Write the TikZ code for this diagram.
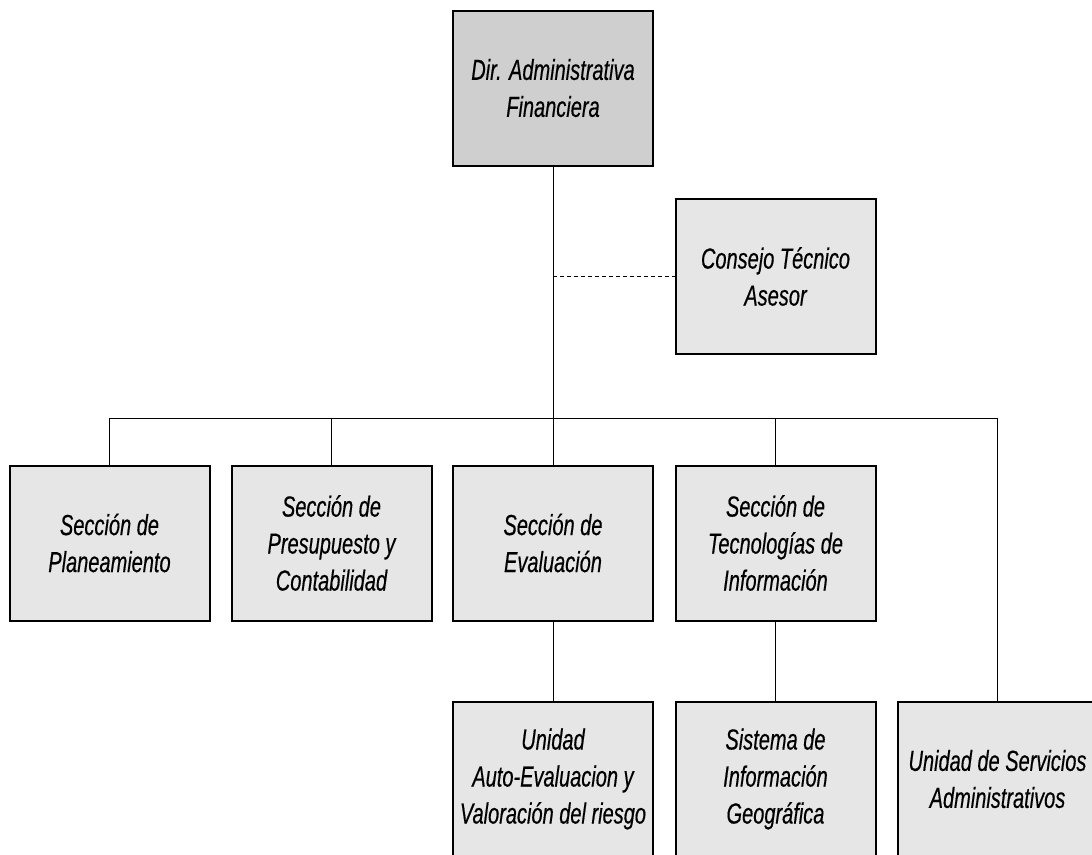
\documentclass[tikz,border=0pt]{standalone}
\usepackage{fontspec}
\newfontfamily\boxfont{Liberation Sans}[FakeStretch=0.69,FakeBold=0.4]
\definecolor{topfill}{HTML}{CFCFCF}
\definecolor{boxfill}{HTML}{E6E6E6}
\tikzset{
  orgbox/.style={draw=black, line width=2pt, fill=boxfill, minimum width=200pt, minimum height=155pt,
    inner sep=2pt, align=center, font=\boxfont\itshape\fontsize{29}{37}\selectfont, text=black},
  topbox/.style={orgbox, fill=topfill},
  link/.style={draw=black, line width=0.9pt},
  advlink/.style={draw=black, line width=0.9pt, dash pattern=on 4pt off 3pt}
}
\begin{document}
\begin{tikzpicture}[x=1pt,y=-1pt]
\clip (0,0) rectangle (1092,854);
\fill[white] (0,0) rectangle (1092,854);
% boxes
\node[topbox] (dir) at (553,88) {Dir. Administrativa\\Financiera};
\node[orgbox] (cons) at (775.5,276.5) {Consejo Técnico\\Asesor};
\node[orgbox] (plan) at (109.5,543) {Sección de\\Planeamiento};
\node[orgbox] (pres) at (331.5,543) {Sección de\\Presupuesto y\\Contabilidad};
\node[orgbox] (eval) at (553,543) {Sección de\\Evaluación};
\node[orgbox] (tec) at (775.5,543) {Sección de\\Tecnologías de\\Información};
\node[orgbox] (auto) at (553,779) {Unidad\\Auto-Evaluacion y\\Valoración del riesgo};
\node[orgbox] (sig) at (775.5,779) {Sistema de\\Información\\Geográfica};
\node[orgbox] (serv) at (997.5,779) {Unidad de Servicios\\Administrativos};
% connectors
\coordinate (busL) at (109.5,418);
\coordinate (busC) at (553,418);
\coordinate (busR) at (997.5,418);
\coordinate (adv) at (553,276.5);
\draw[link] (dir.south) -- (busC);
\draw[link] (busL) -- (busR);
\draw[link] (busL) -- (plan.north);
\draw[link] (pres.north |- busL) -- (pres.north);
\draw[link] (busC) -- (eval.north);
\draw[link] (tec.north |- busL) -- (tec.north);
\draw[link] (busR) -- (serv.north);
\draw[link] (eval.south) -- (auto.north);
\draw[link] (tec.south) -- (sig.north);
\draw[advlink] (adv) -- (cons.west);
\end{tikzpicture}
\end{document}
